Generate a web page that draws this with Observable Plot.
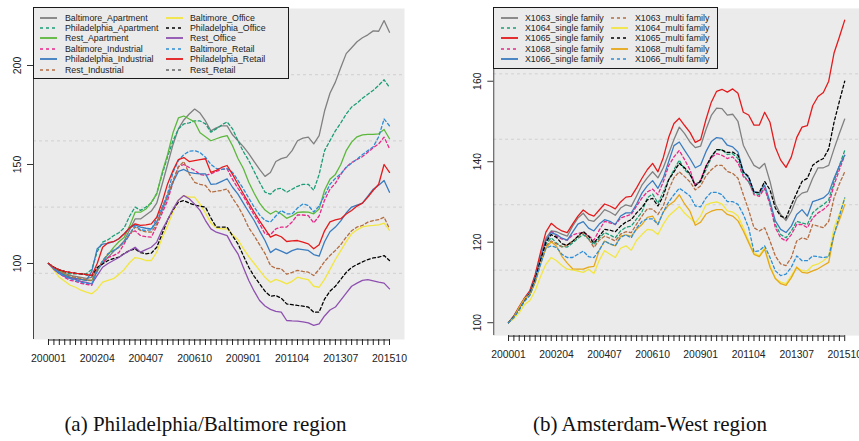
<!DOCTYPE html>
<html><head><meta charset="utf-8">
<script src="https://cdn.jsdelivr.net/npm/d3@7"></script>
<script src="https://cdn.jsdelivr.net/npm/@observablehq/plot@0.6"></script>
<style>
html,body{margin:0;padding:0;background:#fff;}
body{width:859px;height:441px;overflow:hidden;position:relative;font-family:"Liberation Sans",Arial,sans-serif;}
.panel{position:absolute;top:0;}
.legend{position:absolute;box-sizing:border-box;border:1.5px solid #1a1a1a;background:#ebebeb;}
.lt{position:absolute;height:10px;line-height:10px;font-size:8.8px;color:#222;white-space:nowrap;}
.sw{position:absolute;}
.cap{position:absolute;top:414px;font-family:"Liberation Serif","Times New Roman",serif;font-size:21px;line-height:21px;color:#111;white-space:nowrap;transform:translateX(-50%);}
</style></head><body>
<div id="pa" class="panel" style="left:0"></div>
<div id="pb" class="panel" style="left:430px"></div>
<div class="cap" style="left:205.5px">(a) Philadelphia/Baltimore region</div>
<div class="cap" style="left:650px">(b) Amsterdam-West region</div>
<script>
// ---------- categories & tick labels ----------
const years = d3.range(2000, 2016);
const months = ["01", "04", "07", "10"];
const quarters = years.flatMap(y => months.map(m => `${y}${m}`));
const tickLabels = ["200001","200204","200407","200610","200901","201104","201307","201510"];

// ---------- panel (a): Philadelphia/Baltimore ----------
const namesA = ["Baltimore_Apartment","Philadelphia_Apartment","Rest_Apartment","Baltimore_Industrial","Philadelphia_Industrial","Rest_Industrial","Baltimore_Office","Philadelphia_Office","Rest_Office","Baltimore_Retail","Philadelphia_Retail","Rest_Retail"];
const colorsA = ["#808080","#1b9e77","#5cb83c","#e7298a","#3a7cc0","#b46d42","#f2e640","#000000","#8e50b0","#2c8ed6","#e41a1c","#666666"];
const dashedA = [false,true,false,true,false,true,false,true,false,true,false,true];

const baltApt = [100,98,96.5,95,94,93.5,93,92.5, 93,97,100,103,106,108.5,111.5,117, 122.5,122.5,124.5,126.5,130.5,140,150,160, 168,172.5,175.5,178,176,172,167,168.5, 169.5,169.5,165,162,159,155.5,151.5,147.5, 144,146,151.5,153,153.7,157,162,163.3, 163.8,160.4,164.6,177,186,191.6,199,206, 209,212,214,215.5,217.5,217.3,222.7,216.8];
const philApt = [100,98,96.5,95.5,94.8,94.8,94.8,94.8, 97,106,110.8,112,114,115.5,118,124, 128.5,126.8,128.5,130.5,135.5,145,154,162, 168,170.5,171,172,172,170.5,166.3,168, 170,171.5,168,162,156.5,152,146.5,141, 136,135,137.5,138,136,137.5,139,140, 140,137,145,157,162,167,171,175.5, 179,181,183.5,185.5,187.5,190,192.8,189];
const restApt = [100,98,96,94.5,93,92.5,92,91.5, 91.4,96,101,104.5,108,111,113.3,119, 125.9,125.9,127.5,131,135,146,155,166, 173.5,174.5,173,171.5,166,164,162,163, 164,164.6,159.5,153,148,141,135.5,130.5, 127,125,126.5,125,122.8,124,125.8,126, 125.9,125.1,127.5,137,142.5,145,150,157, 161.3,164,165,165.2,165.2,165.5,167.7,163];
const baltInd = [100,97.5,95,93,91.5,91,90,89.5, 89,97,100.5,103,104,105.5,110,115, 116.5,114.1,113.5,113.3,119,125.5,131.8,141, 149,150,148.5,147,145,144.5,145.3,146.5, 147.5,147.8,142.5,138,134,129,124.5,120, 115,114.5,117.5,118.4,118.4,121,124.5,124.5, 124.2,120.5,124,132,137.5,140.5,145,148.7, 151,152.5,154,156.2,158.5,160.4,163.8,158];
const philInd = [100,97.5,95.5,94,93,92.5,92,91.5, 96,107.5,109.8,110.2,111,112.5,115,118, 119.5,118.4,117.8,117.5,121,127,134,141, 146.5,147.5,146,145.5,145.3,145.3,140,140.2, 141.5,142.8,138.5,135,130.5,126,121.7,116.5, 111.6,105.5,107.4,106.2,105,106.5,107.4,107, 106.6,104.5,103.7,111,116,118.4,121.5,125.5, 128.5,129.5,130.5,134,137.5,139.5,141.9,136];
const restInd = [100,98,96.5,95,93.5,93,92.5,91.8, 91.4,97,101.5,104.9,106.5,108.2,111,114.5, 118.4,116.7,116,115.8,120,128,134,142, 148.7,151.5,145.3,141,140,139.4,136,136.5, 136.9,137.7,133,129,124,118,114,109.5, 105,99,97.5,97.3,94.6,95.5,96.5,96, 95.6,93.9,97,101,104,106.6,109.5,113.3, 116.5,118.4,119.2,120.9,121.7,122.1,123.4,117.5];
const baltOff = [100,96.5,93,91,89,88,86.5,85.5, 84.7,87,90.6,91.5,92.3,94.5,97,100.5, 103,102.5,101.5,101.5,105.7,113,119,126, 132,134.3,133.5,133.5,130,125.5,120.5,118, 117.5,117.5,114.5,112,107.5,103.5,100,96.5, 93,90.5,92,91,89.7,91,93.1,92.3, 91.8,88.5,88,92,97,102,106.5,111, 115,117,118.5,119,119.2,119.5,120.4,116.7];
const philOff = [100,98,96.8,96,95.5,95.1,94.8,94.3, 93.9,98,99.8,101.5,102.5,103.2,105,106.6, 107.4,105.5,104.9,105.2,108.2,115,122,127, 131,131.8,130.5,129.5,129,128.5,123,118.4, 118.4,118.4,114,109.9,104,98.1,93.5,89.7, 86,83.5,83.8,82.5,79.6,79.2,78.8,78.5, 78,75.4,75.4,82,86,88.5,92,95.5, 98,99.5,100.8,102,102.8,103.2,104,101.5];
const restOff = [100,97,94.8,93.5,92.5,92,91,90.5, 89.7,94,98.1,100,101.5,103,104.9,106.5, 108.2,105.7,107,108.2,110.8,117,122,127.5, 132,134.3,132.7,130,126.8,121.7,117.5,115.8, 115,114.1,109,104.9,98,91.4,86,81.3, 78.5,76.8,75.8,75.4,71.2,71,70.9,70.5, 70,68.7,69.5,73.5,76.5,78,81.5,85, 88.5,90.1,91.5,91.8,91.2,90.6,90.1,87.2];
const baltRet = [100,97.5,95.1,93.5,92.3,91.5,90.5,90, 89.7,96,101,104.9,106.5,108.2,111,115, 119.2,117,116.7,117,123,128.5,135.2,146, 152,155,156.7,157,156,153.7,150,148, 147.5,148,146,142,137.7,133,128.5,124.5, 121.7,120.9,124,126.8,125.1,125,128,130.1, 129.3,126,129,134.3,140,143,145.3,148.5, 150.7,152.7,155,157,159,164,173,169.5];
const philRet = [100,98,96.8,96,95.5,95,94.8,94.5, 93.9,100,108.2,110.5,111,112.5,115,118, 120,119.2,119.5,120,123.4,131,140.2,147, 152.5,153.5,151.5,152,152.5,152.9,146,147, 148.5,149.5,145,140,135.2,130.5,125.9,121.5, 117.5,113.3,114.6,113.5,111.1,111.4,111.6,110.8, 109.9,107.4,109.5,116.5,121,122,122.6,125, 126.8,129,130.5,133.5,137,140,150,146];
const restRet = []; // not visible in the reference picture
const seriesA = [baltApt,philApt,restApt,baltInd,philInd,restInd,baltOff,philOff,restOff,baltRet,philRet,restRet];
const yTicksA = [100,150,200];

// ---------- panel (b): Amsterdam-West ----------
const namesB = ["X1063_single family","X1064_single family","X1065_single family","X1068_single family","X1066_single family","X1063_multi family","X1064_multi family","X1065_multi family","X1068_multi family","X1066_multi family"];
const colorsB = ["#808080","#1b9e77","#e41a1c","#e7298a","#3a7cc0","#b46d42","#f2e640","#000000","#e6a817","#2c8ed6"];
const dashedB = [false,true,false,true,false,true,false,true,false,true];

const s1063 = [100,101.6,103.8,106,107.7,111.5,116.5,121, 122.8,122.6,122,121.5,124,126,127.2,125.5, 125.2,126.5,128.1,127.5,126.7,128.5,129.3,128.9, 131.5,134.2,136,137.5,136,138.5,142,145.5, 148.6,147,144.9,143.5,143.9,148,151.5,153.3, 153.2,151.6,151.8,150,144.1,141.5,139.1,138.3, 139.6,135.1,129.5,126.9,125.4,127.7,131,132.2, 132.6,135.9,138.5,138.5,139.1,143.2,147,150.6];
const s1064 = [100,101.3,103.2,105.5,107,110.5,115,119.5, 121.1,119.8,118.9,118.8,119.8,121,121.9,120.8, 119.4,121,122.4,121.8,121.1,122.8,123.7,124, 125.8,127.5,131,132,129.7,132.5,135.5,138, 140.4,138,136.7,134.5,135,138,141,143, 143,141.8,142,140.8,136.7,135,132.2,131.8, 133.4,129.7,124.4,121.9,121.1,122.8,125.2,124.8, 124.4,127.3,128.5,129.3,130.5,135.1,139,142.8];
const s1065 = [100,101.7,104,106.2,108,112,117.5,122.5, 124.7,123.6,122.8,122.4,124.5,126.5,128,127, 126.5,128,129.5,129,128.3,130,131.2,131.4, 133.5,135.9,138,139.6,137.5,141,146,149.5, 150.8,149,147.3,144.8,145.5,150.5,154.8,157.5, 158,157.3,158.1,157,152.3,151.6,149.1,149.1, 152.3,149.8,143.6,140.4,138.6,141.2,146,148.6, 149,153.9,156.2,157.2,160,167,171,175.2];
const s1068 = [100,101.5,103.5,105.8,107.2,111,115.8,120.2, 122.8,121.5,120.8,120.5,121.8,122.2,122.4,121.6, 120.5,123,125.2,124.8,124.4,126,126.5,126.9, 129,131,132.5,133.2,131.8,135,139,141.2, 142.8,140.5,138,134,135.5,139,141,142, 141.6,140.8,141.2,139.7,136.3,135.1,131.8,131.4, 133.4,129.3,123.6,121.1,120.3,121.9,124.4,124.4, 123.6,126,127.3,128.1,129.3,134.2,138,141.6];
const s1066 = [100,101.6,103.7,106,107.5,111.2,116,120.5, 122.4,121.9,121,120.5,122.5,124.5,125.1,123.5, 122.8,124.5,125.6,125.2,124.4,126.5,127.3,127.3, 129.5,132.2,134,135.3,133.4,136,140,144, 144.9,142.8,140.8,138.5,139.2,142.5,145,146, 145.8,144.1,143.7,142.4,137.5,136,132.6,132.2, 134.2,130.1,125.3,123.2,122.4,124,126.9,128.1, 126.5,130.1,130.5,131,132.2,135.9,139,141.6];
const m1063 = [100,101.4,103.3,105.5,107,110.5,115,119, 120.3,119.6,118.8,119.3,120.3,121.3,122.4,120.8, 118.7,120.5,121.5,121,120.3,122,122.6,122.4, 124.5,126.5,128.3,128.2,126.9,129,133,136, 137.5,136.3,135,133,134,136.5,138,139.1, 139.1,137.6,137.1,135.9,131.8,128,123.6,122.8, 123.6,120.3,116.6,114.6,114.2,116.2,120.3,121.1, 120.7,124.4,124,123.6,125.2,131,134.5,137.5];
const m1064 = [100,101,102.5,104.5,105.5,108,111.5,114.5, 116.2,115.4,114.2,113.3,113.1,112.8,112.5,113.3, 112.2,115.5,117.9,117,116.2,118.5,119.1,118, 120.5,121.9,123.2,123,121.9,124.5,126.5,127.7, 128.9,127.2,126,124.8,126.5,129.3,129.8,130, 129.5,127.8,127.5,126.5,123.6,120.3,117.4,116.6, 118.7,114.2,111,110.1,109.7,111.7,113.8,112.9, 112.9,114.2,114.6,115.4,116.6,123.6,127,131];
const m1065 = [100,101.5,103.5,105.8,107.2,110.8,115.5,120, 121.9,121.2,119.6,119.3,120.2,121.5,122.7,121.5, 119.8,121.5,123.2,123,122.6,124,125,125.6, 127.3,128.6,130.5,130.9,129,131.5,135.5,137.5, 139.6,138.5,137,134,135.2,138.8,141.3,143, 142.9,142.3,142.4,141.6,137.5,136.3,132.4,132.4, 135.1,133,128.5,126.5,126,129.3,132.2,135.1, 135.9,139.1,140.1,140.8,143.2,149.8,155,160];
const m1068 = [100,101.4,103.8,106,107,110,114.5,118.5, 120.1,119,116.5,114.8,113.4,113.3,113.3,113.8, 114,118,120.3,119.6,119.1,121.5,121.8,121.5, 123.2,124.4,126.2,126.5,124.4,127.5,129.2,130.1, 131.8,129.5,127.7,124.2,125,127,127.7,128.1, 128.1,126.9,126.5,125.3,122.8,119.9,117,116.4, 118.3,113.8,111,109.7,109.3,111.2,113.8,112.5, 112.3,112.9,113.4,114.2,115,121.9,125.5,129.3];
const m1066 = [100,101.3,103.2,105.3,106.8,110.2,114.5,118.5, 119.1,118.7,117,116.2,116.2,117,117.8,116.4, 116.2,118,120.3,119.6,119.1,121.2,121.8,121.1, 123.5,125.2,125.8,125.8,124.4,127.5,130,131.8, 133.4,132.5,131.5,129,128.8,131,132.4,132.4, 131.8,130.1,130.1,129.4,126.9,123.6,117.6,117.9, 119.1,116.2,112.9,111.7,112.1,113.8,116.6,115.4, 115.4,116.6,116.4,116.2,116.4,121.9,126.5,131];
const seriesB = [s1063,s1064,s1065,s1068,s1066,m1063,m1064,m1065,m1068,m1066];
const yTicksB = [100,120,140,160];

// ---------- drawing ----------
const xDomain = [-2.77, quarters.length - 1 + 2.77];
const bg = "#ebebeb";

function drawPanel(el, {series, colors, dashed, yDomain, yTicks, width, marginLeft, marginRight}) {
  const grid = d3.range(1, 5).map(k => yDomain[0] + k * (yDomain[1] - yDomain[0]) / 5);
  const marks = [
    Plot.frame({fill: bg, stroke: null}),
    Plot.ruleY(grid, {stroke: "#d0d0d0", strokeDasharray: "3,3", strokeWidth: 1})
  ];
  series.forEach((vals, k) => {
    if (!vals.length) return;
    marks.push(Plot.line(vals, {
      x: (d, i) => i, y: d => d,
      stroke: colors[k], strokeWidth: 1.3,
      strokeDasharray: dashed[k] ? "3,2.5" : undefined
    }));
  });
  marks.push(
    Plot.ruleX([xDomain[0]], {stroke: "#444", strokeWidth: 1}),
    Plot.ruleY([yDomain[0]], {x1: 0, x2: quarters.length - 1, stroke: "#222", dy: 0.5}),
    Plot.axisX({ticks: d3.range(quarters.length), tickSize: 6, tickPadding: 9, label: null,
      tickFormat: i => tickLabels.includes(quarters[i]) ? quarters[i] : "", stroke: "#222", fill: "#222"}),
    Plot.axisY({ticks: yTicks, tickSize: 6, tickFormat: () => "", label: null, stroke: "#333"}),
    Plot.text(yTicks, {y: d => d, text: d => String(d), frameAnchor: "left", dx: -16, rotate: -90,
      textAnchor: "middle", fill: "#222", fontSize: 10.5})
  );
  el.append(Plot.plot({
    width, height: 370, marginLeft, marginRight, marginTop: 8, marginBottom: 31,
    x: {type: "linear", domain: xDomain},
    y: {domain: yDomain},
    style: {background: "transparent", fontFamily: "'Liberation Sans', Arial, sans-serif", fontSize: "10.5px", color: "#222", overflow: "hidden"},
    marks
  }));
}

drawPanel(document.getElementById("pa"), {series: seriesA, colors: colorsA, dashed: dashedA,
  yDomain: [61.6, 228.8], yTicks: yTicksA, width: 430, marginLeft: 33, marginRight: 26});
drawPanel(document.getElementById("pb"), {series: seriesB, colors: colorsB, dashed: dashedB,
  yDomain: [96.8, 178.1], yTicks: yTicksB, width: 434, marginLeft: 64, marginRight: 0});

// ---------- legends ----------
function legend({box, names, colors, dashed, rows, swX, swW, txX}) {
  const b = document.createElement("div");
  b.className = "legend";
  Object.assign(b.style, {left: box[0] + "px", top: box[1] + "px", width: box[2] + "px", height: box[3] + "px"});
  document.body.appendChild(b);
  names.forEach((name, k) => {
    const col = Math.floor(k / rows), row = k % rows;
    const cy = 17.5 + row * 10.4;
    const ns = "http://www.w3.org/2000/svg";
    const s = document.createElementNS(ns, "svg");
    s.setAttribute("class", "sw");
    s.setAttribute("width", swW); s.setAttribute("height", 6);
    s.style.left = swX[col] + "px"; s.style.top = (cy - 3) + "px";
    const l = document.createElementNS(ns, "line");
    l.setAttribute("x1", 0); l.setAttribute("x2", swW); l.setAttribute("y1", 3); l.setAttribute("y2", 3);
    l.setAttribute("stroke", colors[k]);
    l.setAttribute("stroke-width", dashed[k] ? 1.3 : 1.8);
    if (dashed[k]) l.setAttribute("stroke-dasharray", "3,3");
    s.appendChild(l);
    document.body.appendChild(s);
    const t = document.createElement("div");
    t.className = "lt";
    t.textContent = name;
    t.style.left = txX[col] + "px"; t.style.top = (cy - 5) + "px";
    document.body.appendChild(t);
  });
}
legend({box: [33, 7, 256, 72], names: namesA, colors: colorsA, dashed: dashedA, rows: 6,
  swX: [40, 166], swW: 17, txX: [65, 190]});
legend({box: [493, 7, 225, 62], names: namesB, colors: colorsB, dashed: dashedB, rows: 5,
  swX: [501, 611], swW: 17, txX: [525, 635]});
</script>
</body></html>
